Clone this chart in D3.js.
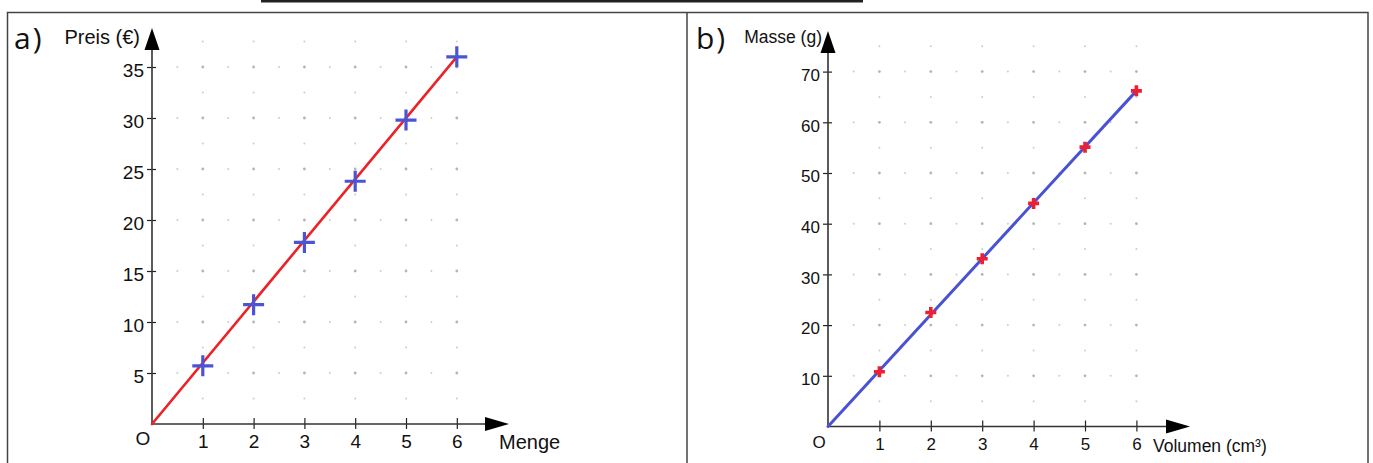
<!DOCTYPE html>
<html>
<head>
<meta charset="utf-8">
<script src="https://cdn.jsdelivr.net/npm/d3@7"></script>
<style>
  body { margin: 0; background: #fff; }
  text { font-family: "Liberation Sans", Arial, sans-serif; fill: #111; }
  .panelLabel { font-family: "Open Sans", "DejaVu Sans", sans-serif; }
</style>
</head>
<body>
<div id="chart"></div>
<script>
// Data
var quantities = [1, 2, 3, 4, 5, 6];
var prices = [5.7, 11.7, 17.8, 23.8, 29.8, 36.0];
var volumes = [1, 2, 3, 4, 5, 6];
var masses = [10.8, 22.5, 33.1, 44.0, 55.1, 66.2];

var xTicks = [1, 2, 3, 4, 5, 6];
var priceTicks = [5, 10, 15, 20, 25, 30, 35];
var massTicks = [10, 20, 30, 40, 50, 60, 70];

// SVG size
var svgWidth = 1373;
var svgHeight = 463;

var svg = d3.select("#chart")
  .append("svg")
  .attr("width", svgWidth)
  .attr("height", svgHeight);

// Frame of the two panels + cut off title underline
svg.append("line")
  .attr("x1", 261).attr("x2", 863).attr("y1", 1.2).attr("y2", 1.2)
  .attr("stroke", "#222").attr("stroke-width", 2.4);

svg.append("path")
  .attr("d", "M7.5,463 V12.5 H1368 V463 M687,12.5 V463")
  .attr("fill", "none")
  .attr("stroke", "#444")
  .attr("stroke-width", 1.5);

// Draws one coordinate system with dotted grid, axes and arrows
function drawPanel(opt) {
  var g = svg.append("g");

  var x = d3.scaleLinear().domain([0, 6]).range([opt.ox, opt.ox + 6 * opt.xUnit]);
  var y = d3.scaleLinear().domain([0, opt.yMax]).range([opt.oy, opt.oy - opt.yMax * opt.yUnit]);

  // Step 1: dotted grid
  var dots = [];
  for (var yi = opt.yStep / 2; yi <= opt.yTop + 1e-9; yi += opt.yStep / 2) {
    var major = Math.abs(yi / opt.yStep - Math.round(yi / opt.yStep)) < 1e-6;
    for (var xi = 0.5; xi <= 6 + 1e-9; xi += 0.5) {
      var intX = Math.abs(xi - Math.round(xi)) < 1e-6;
      if (major || intX) dots.push({x: xi, y: yi, big: major && intX});
    }
  }
  g.selectAll(".dot")
    .data(dots)
    .enter()
    .append("circle")
    .attr("cx", d => x(d.x))
    .attr("cy", d => y(d.y))
    .attr("r", d => d.big ? 1.4 : 1)
    .attr("fill", d => d.big ? "#b4b4b4" : "#cccccc");

  // Step 2: axes with ticks crossing the axis line
  var leftAxis = d3.axisLeft(y).tickValues(opt.yTicks).tickSize(5).tickPadding(3).tickFormat(d3.format("d"));
  var yAxisG = g.append("g")
    .attr("transform", `translate(${opt.ox}, 0)`)
    .call(leftAxis);
  yAxisG.select(".domain").remove();
  yAxisG.selectAll(".tick line").attr("x1", 4).attr("stroke", "#222").attr("stroke-width", 1.2);
  yAxisG.selectAll(".tick text")
    .attr("font-size", opt.tickFont)
    .attr("font-family", null)
    .attr("dy", "0.52em");

  var bottomAxis = d3.axisBottom(x).tickValues(xTicks).tickSize(5).tickPadding(6).tickFormat(d3.format("d"));
  var xAxisG = g.append("g")
    .attr("transform", `translate(0, ${opt.oy})`)
    .call(bottomAxis);
  xAxisG.select(".domain").remove();
  xAxisG.selectAll(".tick line").attr("y1", -6).attr("stroke", "#222").attr("stroke-width", 1.2);
  xAxisG.selectAll(".tick text")
    .attr("font-size", opt.tickFont)
    .attr("font-family", null);

  // axis lines and arrow heads
  g.append("line")
    .attr("x1", opt.ox).attr("x2", opt.ox)
    .attr("y1", opt.oy).attr("y2", opt.yArrowTip + 10)
    .attr("stroke", "#333").attr("stroke-width", 1.6);
  g.append("line")
    .attr("x1", opt.ox).attr("x2", opt.xArrowTip - 10)
    .attr("y1", opt.oy).attr("y2", opt.oy)
    .attr("stroke", "#333").attr("stroke-width", 1.6);
  g.append("path")
    .attr("d", `M${opt.ox},${opt.yArrowTip} L${opt.ox + 7.5},${opt.yArrowTip + 22} L${opt.ox - 7.5},${opt.yArrowTip + 22} Z`)
    .attr("fill", "#000");
  g.append("path")
    .attr("d", `M${opt.xArrowTip},${opt.oy} L${opt.xArrowTip - 24},${opt.oy - 7} L${opt.xArrowTip - 24},${opt.oy + 7} Z`)
    .attr("fill", "#000");

  // Step 3: line from the origin through the last point
  var n = opt.xs.length - 1;
  g.append("line")
    .attr("x1", x(0)).attr("y1", y(0))
    .attr("x2", x(opt.xs[n])).attr("y2", y(opt.ys[n]))
    .attr("stroke", opt.lineColor)
    .attr("stroke-width", opt.lineWidth)
    .attr("stroke-linecap", "round");

  // Step 4: plus markers
  var pts = opt.xs.map((v, i) => ({x: v, y: opt.ys[i]}));
  g.selectAll(".marker")
    .data(pts)
    .enter()
    .append("path")
    .attr("d", d => {
      var cx = x(d.x), cy = y(d.y), s = opt.markSize;
      return `M${cx - s},${cy} H${cx + s} M${cx},${cy - s} V${cy + s}`;
    })
    .attr("stroke", opt.markColor)
    .attr("stroke-width", opt.markWidth)
    .attr("fill", "none");

  // Step 5: labels
  g.append("text")
    .attr("x", opt.ox - 9).attr("y", opt.oy + 21)
    .attr("text-anchor", "middle")
    .attr("font-size", opt.tickFont)
    .text("O");

  g.append("text")
    .attr("x", opt.yTitleX).attr("y", opt.yTitleY)
    .attr("text-anchor", "end")
    .attr("font-size", opt.titleFont)
    .text(opt.yTitle);

  g.append("text")
    .attr("x", opt.xTitleX).attr("y", opt.oy + 25)
    .attr("font-size", opt.titleFont)
    .text(opt.xTitle);

  g.append("text")
    .attr("class", "panelLabel")
    .attr("x", opt.labelX).attr("y", 49)
    .attr("font-size", 30)
    .attr("letter-spacing", 2)
    .text(opt.label);
}

// Panel a) Preis / Menge
drawPanel({
  ox: 152, oy: 424, xUnit: 50.8, yUnit: 10.2,
  yMax: 37.5, yTop: 37.5, yStep: 5, yTicks: priceTicks,
  xs: quantities, ys: prices,
  yArrowTip: 28, xArrowTip: 509,
  lineColor: "#ec2227", lineWidth: 2.6,
  markColor: "#4b55d2", markWidth: 3.2, markSize: 10.5,
  tickFont: 19, titleFont: 20,
  yTitle: "Preis (€)", yTitleX: 140, yTitleY: 44,
  xTitle: "Menge", xTitleX: 499,
  label: "a)", labelX: 14
});

// Panel b) Masse / Volumen
drawPanel({
  ox: 828, oy: 426.5, xUnit: 51.4, yUnit: 5.07,
  yMax: 75, yTop: 75, yStep: 10, yTicks: massTicks,
  xs: volumes, ys: masses,
  yArrowTip: 31, xArrowTip: 1190,
  lineColor: "#4a52d4", lineWidth: 3,
  markColor: "#ee1f30", markWidth: 3.6, markSize: 5.5,
  tickFont: 17, titleFont: 17.5,
  yTitle: "Masse (g)", yTitleX: 822, yTitleY: 43,
  xTitle: "Volumen (cm³)", xTitleX: 1153,
  label: "b)", labelX: 696
});
</script>
</body>
</html>
